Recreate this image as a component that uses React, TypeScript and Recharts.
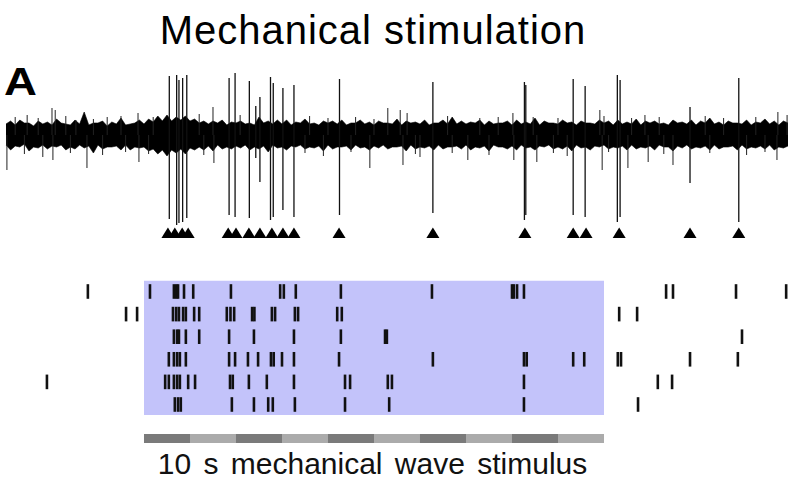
import React from 'react';
import { ComposedChart, Scatter, XAxis, YAxis, ReferenceLine, ReferenceArea, Area } from 'recharts';

// time axis in seconds, stimulus runs 0..10 s
const X_DOMAIN: [number, number] = [-3.1304, 14.0435];

// noise envelope of the recorded trace (arbitrary µV units), sampled every 0.1 s from -3.0 s
const TRACE_T0 = -3.0;
const TRACE_DT = 0.1;
const traceHi = [
  11, 14, 10, 15, 12, 12, 9, 14, 11, 13,
  10, 16, 12, 11, 10, 15, 11, 23, 10, 12,
  12, 14, 9, 13, 11, 17, 10, 11, 12, 15,
  11, 16, 13, 19, 14, 20, 14, 18, 15, 19,
  14, 16, 12, 14, 11, 14, 12, 15, 10, 13,
  12, 14, 11, 12, 10, 18, 12, 14, 11, 15,
  11, 15, 10, 13, 12, 16, 11, 12, 10, 14,
  12, 14, 11, 15, 10, 12, 12, 15, 11, 13,
  10, 14, 12, 12, 11, 16, 10, 14, 12, 13,
  11, 15, 10, 12, 12, 15, 11, 18, 11, 14,
  11, 13, 12, 15, 10, 14, 11, 12, 12, 14,
  10, 15, 11, 13, 11, 17, 10, 14, 12, 12,
  11, 15, 12, 13, 10, 14, 12, 12, 11, 15,
  12, 14, 10, 15, 11, 13, 11, 16, 10, 14,
  12, 14, 11, 12, 10, 15, 12, 13, 11, 15,
  10, 14, 12, 17, 11, 13, 10, 14, 12, 12,
  11, 15, 10, 13, 12, 16, 11, 14, 10, 14,
  12,
];
const traceLo = [
  -10, -15, -11, -12, -9, -16, -12, -13, -10, -14,
  -11, -12, -10, -15, -12, -14, -10, -13, -11, -18,
  -10, -14, -12, -12, -11, -15, -10, -15, -12, -13,
  -12, -16, -14, -19, -15, -21, -15, -18, -14, -19,
  -13, -15, -12, -15, -11, -16, -10, -14, -12, -14,
  -11, -13, -10, -15, -12, -14, -11, -17, -10, -13,
  -12, -15, -11, -12, -10, -14, -12, -13, -11, -16,
  -10, -14, -12, -12, -11, -15, -10, -13, -12, -15,
  -11, -13, -10, -14, -12, -12, -11, -16, -10, -14,
  -12, -13, -11, -15, -10, -14, -12, -12, -11, -14,
  -10, -15, -12, -13, -11, -16, -10, -12, -12, -14,
  -11, -15, -10, -13, -12, -15, -11, -12, -10, -14,
  -12, -14, -11, -16, -10, -13, -12, -15, -11, -12,
  -10, -14, -12, -13, -11, -15, -10, -14, -12, -13,
  -11, -15, -10, -12, -12, -16, -11, -13, -10, -14,
  -12, -13, -11, -15, -10, -14, -12, -12, -11, -15,
  -10, -14, -12, -13, -11, -14, -10, -15, -12, -13,
  -11,
];

// noise excursions sticking out of the band (tip value)
const noiseHairs = [
  { t: -2.98, v: -35 }, { t: -2.54, v: 20 }, { t: -2.0, v: 27 }, { t: -1.98, v: -25 },
  { t: -1.93, v: 25 }, { t: -1.48, v: 15 }, { t: -1.24, v: -33 }, { t: -0.8, v: 18 },
  { t: -0.13, v: 22 }, { t: -0.11, v: -27 }, { t: 1.5, v: 28 }, { t: 1.52, v: -28 },
  { t: 2.09, v: 20 }, { t: 4.91, v: -33 }, { t: 5.3, v: 27 }, { t: 5.57, v: 25 },
  { t: 5.63, v: -30 }, { t: 5.72, v: 22 }, { t: 6.0, v: -22 }, { t: 7.04, v: -25 },
  { t: 8.02, v: 22 }, { t: 8.04, v: -25 }, { t: 8.46, v: 18 }, { t: 8.54, v: -27 },
  { t: 9.91, v: 25 }, { t: 9.96, v: -35 }, { t: 10.52, v: -33 }, { t: 10.89, v: 20 },
  { t: 10.96, v: -27 }, { t: 11.5, v: -30 }, { t: 13.76, v: -25 }, { t: 13.78, v: 23 },
  { t: 13.98, v: 20 },
  { t: -2.8, v: 18 }, { t: -2.3, v: 17 }, { t: -1.7, v: 19 }, { t: -1.1, v: 16 },
  { t: -0.5, v: 19 }, { t: 0.2, v: 18 }, { t: 1.2, v: 21 }, { t: 3.6, v: 19 },
  { t: 4.0, v: 17 }, { t: 4.6, v: 18 }, { t: 5.0, v: 16 }, { t: 6.6, v: 19 },
  { t: 7.3, v: 17 }, { t: 7.7, v: 18 }, { t: 9.0, v: 17 }, { t: 10.0, v: 19 },
  { t: 10.6, v: 17 }, { t: 11.2, v: 18 }, { t: 12.2, v: 19 }, { t: 12.6, v: 17 },
  { t: 13.3, v: 18 },
  { t: -2.6, v: -19 }, { t: -2.2, v: -22 }, { t: -1.6, v: -18 }, { t: -0.9, v: -20 },
  { t: -0.4, v: -17 }, { t: 0.1, v: -19 }, { t: 1.3, v: -20 }, { t: 3.5, v: -18 },
  { t: 3.9, v: -21 }, { t: 4.5, v: -17 }, { t: 5.9, v: -19 }, { t: 6.7, v: -18 },
  { t: 7.5, v: -20 }, { t: 8.9, v: -18 }, { t: 9.2, v: -21 }, { t: 10.1, v: -17 },
  { t: 11.3, v: -19 }, { t: 12.3, v: -18 }, { t: 13.1, v: -20 }, { t: 13.5, v: -17 },
];

// action potentials in the trace
const spikeTimes = [0.55, 0.71, 0.76, 0.84, 0.93, 1.85, 1.98, 2.29, 2.43, 2.52, 2.75, 2.81, 3.02, 3.26, 4.25, 6.28, 8.27, 8.3, 9.33, 9.59, 10.29, 10.35, 11.87, 12.93];
const spikeTops = [59, 60, 55, 57, 60, 57, 62, 54, 29, 38, 58, 52, 47, 50, 56, 53, 53, 50, 56, 49, 60, 55, 28, 57];
const spikeBottoms = [-84, -90, -88, -87, -83, -80, -82, -83, -23, -47, -85, -82, -75, -82, -80, -78, -85, -80, -80, -82, -87, -82, -48, -87];

// detected spike markers
const markerTimes = [0.52, 0.67, 0.83, 0.96, 1.83, 2.0, 2.28, 2.52, 2.78, 3.02, 3.26, 4.24, 6.28, 8.28, 9.33, 9.61, 10.33, 11.87, 12.93];
const MARKER_LEVEL = -98;

// raster: spike times per trial
const trial1 = [-1.22, 0.13, 0.65, 0.7, 0.74, 0.87, 1.07, 1.89, 2.96, 3.04, 3.3, 4.28, 6.26, 8.0, 8.04, 8.11, 8.26, 11.35, 11.5, 12.87, 13.96];
const trial2 = [-0.39, -0.15, 0.63, 0.7, 0.76, 0.85, 0.91, 1.09, 1.2, 1.8, 1.88, 1.96, 2.35, 2.4, 2.78, 2.85, 3.28, 3.35, 4.2, 4.3, 10.33, 10.72];
const trial3 = [0.65, 0.72, 0.76, 0.91, 1.2, 1.85, 2.39, 3.26, 4.28, 5.24, 5.28, 13.0];
const trial4 = [0.54, 0.65, 0.72, 0.78, 0.91, 1.85, 1.98, 2.26, 2.48, 2.76, 2.82, 3.0, 3.26, 4.24, 6.28, 8.26, 8.32, 9.33, 9.57, 10.3, 10.37, 11.87, 12.91];
const trial5 = [-2.11, 0.46, 0.54, 0.65, 0.72, 0.78, 0.96, 1.11, 1.87, 1.93, 2.28, 2.67, 3.26, 4.37, 4.48, 5.3, 5.39, 8.26, 11.17, 11.48];
const trial6 = [0.67, 0.74, 0.8, 1.91, 2.39, 2.7, 2.8, 3.28, 4.37, 5.33, 8.26, 10.74];
const trials = [trial1, trial2, trial3, trial4, trial5, trial6];

// stimulus: 10 one-second phases
const stimStarts = [0, 1, 2, 3, 4, 5, 6, 7, 8, 9];
const stimShades = ['dark', 'light', 'dark', 'light', 'dark', 'light', 'dark', 'light', 'dark', 'light'];
const STIM_ON = 0;
const STIM_OFF = 10;

const traceData = traceHi.map((hi, i) => ({ t: Number((TRACE_T0 + i * TRACE_DT).toFixed(2)), band: [traceLo[i], hi] }));
const markerData = markerTimes.map((t) => ({ t, v: MARKER_LEVEL }));
const rasterData = trials.flatMap((row, k) => row.map((t) => ({ t, trial: k + 1 })));

const FONT = '"Liberation Sans", Arial, Helvetica, sans-serif';
const W = 790;

const Triangle = (props: any) => {
  const { cx, cy } = props;
  if (cx == null || cy == null) return null;
  return <polygon points={`${cx - 6.5},${cy + 5} ${cx + 6.5},${cy + 5} ${cx},${cy - 5.5}`} fill="#000" />;
};

const Tick = (props: any) => {
  const { cx, cy } = props;
  if (cx == null || cy == null) return null;
  return <rect x={cx - 1.3} y={cy - 7.3} width={2.6} height={14.6} fill="#111" />;
};

export default function App() {
  return (
    <div style={{ position: 'absolute', left: 0, top: 0, width: W, height: 482, background: '#fff', fontFamily: FONT, overflow: 'hidden' }}>
      <div style={{ position: 'absolute', left: 0, top: 10, width: 746, textAlign: 'center', fontSize: 40, lineHeight: '40px', letterSpacing: 1, color: '#000' }}>
        Mechanical stimulation
      </div>
      <div style={{ position: 'absolute', left: 4, top: 63, fontSize: 38, lineHeight: '38px', fontWeight: 'bold', color: '#000', transform: 'scaleX(1.2)', transformOrigin: 'left top' }}>A</div>

      {/* recorded trace */}
      <div style={{ position: 'absolute', left: 0, top: 60 }}>
        <ComposedChart width={W} height={185} data={traceData} margin={{ top: 0, right: 0, bottom: 0, left: 0 }}>
          <XAxis dataKey="t" type="number" domain={X_DOMAIN} allowDataOverflow hide />
          <YAxis dataKey="v" type="number" domain={[-110, 75]} allowDataOverflow hide />
          <Area dataKey="band" type="linear" stroke="#000" strokeWidth={0.6} fill="#000" fillOpacity={1} isAnimationActive={false} dot={false} activeDot={false} />
          {noiseHairs.map((h, i) => (
            <ReferenceLine key={`h${i}`} segment={[{ x: h.t, y: 0 }, { x: h.t, y: h.v }]} stroke="#222" strokeWidth={1} ifOverflow="visible" />
          ))}
          {spikeTimes.map((t, i) => (
            <ReferenceLine key={`s${i}`} segment={[{ x: t, y: spikeBottoms[i] }, { x: t, y: spikeTops[i] }]} stroke="#111" strokeWidth={1.3} ifOverflow="visible" />
          ))}
          <Scatter data={markerData} dataKey="v" shape={<Triangle />} isAnimationActive={false} />
        </ComposedChart>
      </div>

      {/* raster */}
      <div style={{ position: 'absolute', left: 0, top: 270 }}>
        <ComposedChart width={W} height={160} margin={{ top: 0, right: 0, bottom: 0, left: 0 }}>
          <XAxis dataKey="t" type="number" domain={X_DOMAIN} allowDataOverflow hide />
          <YAxis dataKey="trial" type="number" domain={[0.049, 7.129]} reversed allowDataOverflow hide />
          <ReferenceArea x1={STIM_ON} x2={STIM_OFF} y1={0.53} y2={6.47} fill="#c3c3fa" fillOpacity={1} stroke="none" ifOverflow="visible" />
          <Scatter data={rasterData} dataKey="trial" shape={<Tick />} isAnimationActive={false} />
        </ComposedChart>
      </div>

      {/* stimulus bar */}
      <div style={{ position: 'absolute', left: 0, top: 434 }}>
        <ComposedChart width={W} height={9} margin={{ top: 0, right: 0, bottom: 0, left: 0 }}>
          <XAxis dataKey="t" type="number" domain={X_DOMAIN} allowDataOverflow hide />
          <YAxis type="number" domain={[0, 1]} allowDataOverflow hide />
          {stimStarts.map((s, i) => (
            <ReferenceArea key={`p${i}`} x1={s} x2={s + 1} y1={0} y2={1} fill={stimShades[i] === 'dark' ? '#7a7a7a' : '#ababab'} fillOpacity={1} stroke="none" ifOverflow="visible" />
          ))}
        </ComposedChart>
      </div>

      <div style={{ position: 'absolute', left: 0, top: 449, width: 745, textAlign: 'center', fontSize: 30, lineHeight: '30px', wordSpacing: 4, color: '#111' }}>
        10 s mechanical wave stimulus
      </div>
    </div>
  );
}
